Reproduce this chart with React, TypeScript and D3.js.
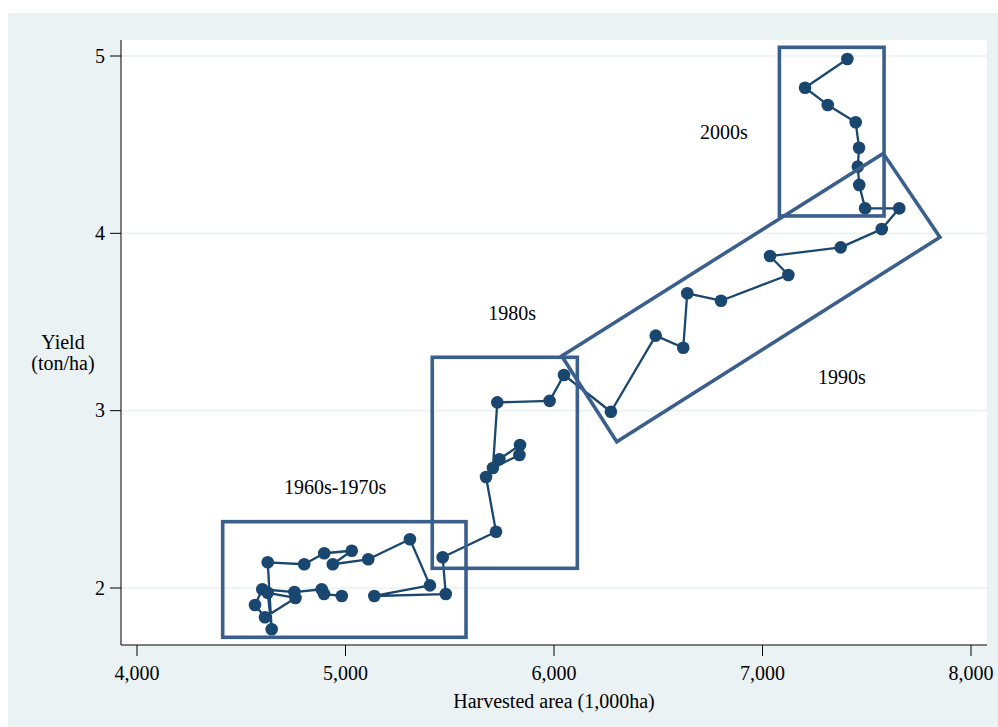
import React from "react";
import * as d3 from "d3";

// Harvested area (1,000 ha) and yield (ton/ha), in time order
const areaValues = [4982, 4897, 4886, 4755, 4601, 4566, 4614, 4760, 4627, 4646, 4627, 4802, 4898, 5030, 4939, 5109, 5309, 5405, 5138, 5481, 5466, 5722, 5674, 5738, 5837, 5834, 5707, 5728, 5979, 6048, 6273, 6488, 6620, 6639, 6801, 7124, 7036, 7375, 7572, 7656, 7492, 7464, 7457, 7463, 7447, 7313, 7204, 7407];
const yieldValues = [1.955, 1.966, 1.993, 1.977, 1.993, 1.904, 1.835, 1.944, 1.973, 1.767, 2.145, 2.134, 2.196, 2.21, 2.134, 2.162, 2.275, 2.015, 1.955, 1.966, 2.173, 2.317, 2.626, 2.726, 2.806, 2.75, 2.677, 3.047, 3.055, 3.201, 2.994, 3.423, 3.355, 3.662, 3.62, 3.765, 3.872, 3.921, 4.024, 4.141, 4.141, 4.273, 4.376, 4.483, 4.626, 4.724, 4.821, 4.983];

const xTicks = [4000, 5000, 6000, 7000, 8000];
const yTicks = [2, 3, 4, 5];

// Rectangular period boxes (data coordinates)
const boxAreaMin = [4411, 5416, 7081];
const boxAreaMax = [5578, 6112, 7583];
const boxYieldMin = [1.722, 2.111, 4.098];
const boxYieldMax = [2.374, 3.301, 5.049];
// Rotated box for the 1990s (data coordinates)
const polyArea = [6037, 7579, 7851, 6301];
const polyYield = [3.308, 4.451, 3.978, 2.825];

const labelText = ["1960s-1970s", "1980s", "1990s", "2000s"];
const labelArea = [4950, 5799, 7381, 6815];
const labelYield = [2.57, 3.551, 3.19, 4.571];

const W = 998;
const H = 727;
const plotL = 121, plotR = 987, plotT = 40, plotB = 645;
const FONT = "'Liberation Serif', 'Times New Roman', serif";
const SERIES = "#1a476f";
const BOX = "#3b5f8d";
const BG = "#eaf2f3";

export default function App() {
  const x = d3.scaleLinear().domain([4000, 8000]).range([137, 971]);
  const y = d3.scaleLinear().domain([2, 5]).range([588, 56]);

  const pts = areaValues.map((a, i) => [x(a), y(yieldValues[i])] as [number, number]);
  const linePath = d3.line()(pts) || "";
  const polyPts = polyArea.map((a, i) => `${x(a)},${y(polyYield[i])}`).join(" ");

  return (
    <svg width={W} height={H} style={{ position: "absolute", left: 0, top: 0 }} fontFamily={FONT}>
      <rect x={0} y={0} width={W} height={H} fill="#ffffff" />
      <rect x={8} y={13} width={W - 8} height={H - 13} fill={BG} />
      <rect x={plotL} y={plotT} width={plotR - plotL} height={plotB - plotT} fill="#ffffff" />
      {yTicks.map((t) => (
        <line key={"g" + t} x1={plotL} x2={plotR} y1={y(t)} y2={y(t)} stroke={BG} strokeWidth={1.6} />
      ))}
      {/* axes */}
      <line x1={plotL} x2={plotL} y1={plotT} y2={plotB} stroke="#000" strokeWidth={1} />
      <line x1={plotL} x2={plotR} y1={plotB} y2={plotB} stroke="#000" strokeWidth={1} />
      {yTicks.map((t) => (
        <g key={"y" + t}>
          <line x1={plotL - 11} x2={plotL} y1={y(t)} y2={y(t)} stroke="#000" strokeWidth={1} />
          <text x={plotL - 16} y={y(t)} dy="0.34em" textAnchor="end" fontSize={20} fill="#000">
            {t}
          </text>
        </g>
      ))}
      {xTicks.map((t) => (
        <g key={"x" + t}>
          <line x1={x(t)} x2={x(t)} y1={plotB} y2={plotB + 11} stroke="#000" strokeWidth={1} />
          <text x={x(t)} y={680} textAnchor="middle" fontSize={20} fill="#000">
            {d3.format(",")(t)}
          </text>
        </g>
      ))}
      <text x={(plotL + plotR) / 2} y={708} textAnchor="middle" fontSize={20} fill="#000">
        Harvested area (1,000ha)
      </text>
      <text x={63} y={349} textAnchor="middle" fontSize={20} fill="#000">Yield</text>
      <text x={63} y={370} textAnchor="middle" fontSize={20} fill="#000">(ton/ha)</text>

      {/* series */}
      <path d={linePath} fill="none" stroke={SERIES} strokeWidth={2.3} strokeLinejoin="round" />
      {pts.map((p, i) => (
        <circle key={"p" + i} cx={p[0]} cy={p[1]} r={6.3} fill={SERIES} />
      ))}

      {/* period boxes */}
      {boxAreaMin.map((a, i) => (
        <rect
          key={"b" + i}
          x={x(a)}
          y={y(boxYieldMax[i])}
          width={x(boxAreaMax[i]) - x(a)}
          height={y(boxYieldMin[i]) - y(boxYieldMax[i])}
          fill="none"
          stroke={BOX}
          strokeWidth={3.6}
        />
      ))}
      <polygon points={polyPts} fill="none" stroke={BOX} strokeWidth={3.6} />

      {labelText.map((t, i) => (
        <text key={"l" + i} x={x(labelArea[i])} y={y(labelYield[i])} dy="0.34em" textAnchor="middle" fontSize={20} fill="#000">
          {t}
        </text>
      ))}
    </svg>
  );
}
